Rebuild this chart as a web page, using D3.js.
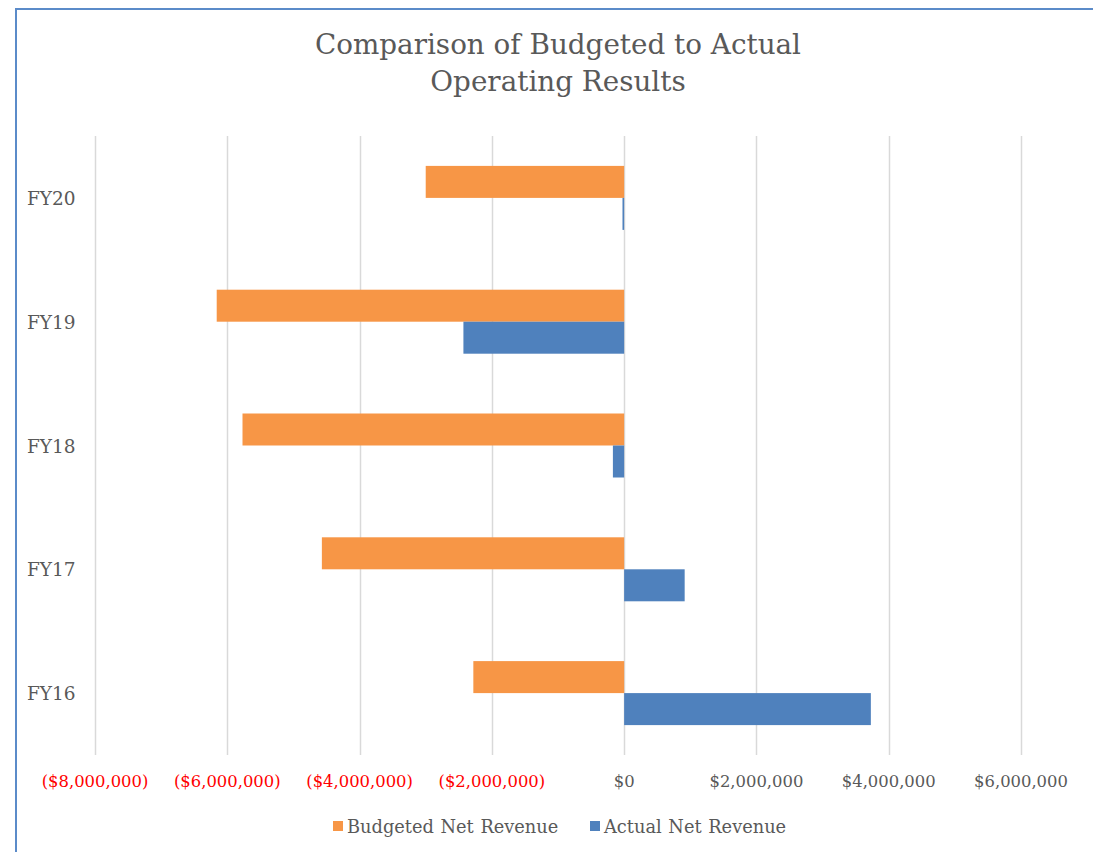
<!DOCTYPE html>
<html>
<head>
<meta charset="utf-8">
<script src="https://cdn.jsdelivr.net/npm/d3@7"></script>
<style>
  html, body { margin: 0; padding: 0; background: #fff; overflow: hidden; }
  svg { display: block; }
  text { font-family: "DejaVu Serif", serif; }
</style>
</head>
<body>
<div id="chart"></div>
<script>
// chart data
var categories = ["FY20", "FY19", "FY18", "FY17", "FY16"];
var budgeted = [-3000000, -6160000, -5770000, -4570000, -2280000];
var actual = [-25000, -2430000, -170000, 915000, 3730000];
var seriesNames = ["Budgeted Net Revenue", "Actual Net Revenue"];
var tickValues = [-8000000, -6000000, -4000000, -2000000, 0, 2000000, 4000000, 6000000];

var width = 1093, height = 852,
    margin = { top: 136, bottom: 97, left: 95, right: 72 },
    colours = ["#F79646", "#4F81BD"],
    grey = "#595959";

var svg = d3.select("#chart").append("svg")
    .attr("width", width)
    .attr("height", height);

// chart area border (only top and left edges show in the crop)
svg.append("line")
    .attr("x1", 16).attr("x2", 16)
    .attr("y1", 8).attr("y2", height)
    .attr("stroke", "#5B8BC9")
    .attr("stroke-width", 2);
svg.append("line")
    .attr("x1", 15).attr("x2", width)
    .attr("y1", 9).attr("y2", 9)
    .attr("stroke", "#5B8BC9")
    .attr("stroke-width", 2);

var innerWidth = width - margin.left - margin.right,
    innerHeight = height - margin.top - margin.bottom;

var xScale = d3.scaleLinear()
    .domain([-8000000, 6000000])
    .range([0, innerWidth]);

var yScale = d3.scaleBand()
    .domain(categories)
    .range([0, innerHeight]);

var barH = 32;

var g = svg.append("g")
    .attr("transform", "translate(" + margin.left + "," + margin.top + ")");

// gridlines
g.selectAll(".grid")
  .data(tickValues)
  .enter().append("line")
    .attr("x1", function(d){ return Math.round(xScale(d)) + 0.5; })
    .attr("x2", function(d){ return Math.round(xScale(d)) + 0.5; })
    .attr("y1", 0)
    .attr("y2", innerHeight)
    .attr("stroke", "#D9D9D9")
    .attr("stroke-width", 1.5);

// bars
var rows = categories.map(function(c, i){
  return { cat: c, vals: [budgeted[i], actual[i]] };
});

rows.forEach(function(r){
  var yMid = yScale(r.cat) + yScale.bandwidth() / 2;
  r.vals.forEach(function(v, j){
    g.append("rect")
      .attr("x", xScale(Math.min(0, v)))
      .attr("width", Math.abs(xScale(v) - xScale(0)))
      .attr("y", yMid - barH + j * barH)
      .attr("height", barH)
      .attr("fill", colours[j]);
  });
});

// x axis labels
var fmt = d3.format(",.0f");
g.selectAll(".xlab")
  .data(tickValues)
  .enter().append("text")
    .attr("x", function(d){ return xScale(d); })
    .attr("y", innerHeight + 32)
    .attr("text-anchor", "middle")
    .style("font-size", "16.4px")
    .attr("fill", function(d){ return d < 0 ? "#FF0000" : grey; })
    .text(function(d){ return d < 0 ? "($" + fmt(-d) + ")" : "$" + fmt(d); });

// category labels
g.selectAll(".ylab")
  .data(categories)
  .enter().append("text")
    .attr("x", 27 - margin.left)
    .attr("y", function(d){ return yScale(d) + yScale.bandwidth() / 2 + 7; })
    .style("font-size", "18.5px")
    .attr("fill", grey)
    .text(function(d){ return d; });

// title
svg.append("text")
    .attr("x", 558).attr("y", 54)
    .attr("text-anchor", "middle")
    .attr("fill", grey)
    .style("font-size", "27.8px")
    .text("Comparison of Budgeted to Actual");
svg.append("text")
    .attr("x", 558).attr("y", 91)
    .attr("text-anchor", "middle")
    .attr("fill", grey)
    .style("font-size", "27.8px")
    .text("Operating Results");

// legend
var legendX = [333, 590];
seriesNames.forEach(function(name, i){
  svg.append("rect")
    .attr("x", legendX[i])
    .attr("y", 821)
    .attr("width", 10)
    .attr("height", 10)
    .attr("fill", colours[i]);
  svg.append("text")
    .attr("x", legendX[i] + 14)
    .attr("y", 833)
    .style("font-size", "17.8px")
    .style("word-spacing", "1px")
    .attr("fill", grey)
    .text(name);
});
</script>
</body>
</html>
